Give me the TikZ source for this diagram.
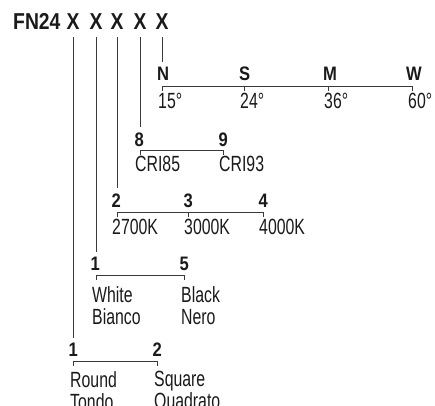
\documentclass[tikz,border=0pt]{standalone}
\usepackage{fontspec}
\setmainfont{Liberation Sans}
\newfontfamily\codefont{Liberation Sans}[FakeStretch=0.84]
\newfontfamily\numfont{Liberation Sans}[FakeStretch=0.85]
\newfontfamily\optfont{Liberation Sans}[FakeStretch=0.72]
\usepackage{xcolor}
\definecolor{rule-gray}{HTML}{3A3A3A}
\definecolor{text-black}{HTML}{1A1A1A}

\begin{document}
\begin{tikzpicture}[x=1pt, y=-1pt,
        every node/.style={inner sep=0pt, text=text-black},
        code/.style={font=\codefont\fontsize{23}{26}\selectfont\bfseries, anchor=base, outer ysep=8pt},
        num/.style={font=\numfont\fontsize{19.5}{22}\selectfont\bfseries, anchor=base west, outer ysep=5pt},
        opt/.style={font=\optfont\fontsize{22}{22}\selectfont, anchor=north west, align=left},
        rule/.style={line width=0.8pt, rule-gray}]
      \useasboundingbox (0,0) rectangle (435,405);
      % product code
      \node[code, anchor=base west] (fam) at (13,29) {FN24};
      \node[code] (x1) at (73,29) {X};
      \node[code] (x2) at (96,29) {X};
      \node[code] (x3) at (117,29) {X};
      \node[code] (x4) at (140,29) {X};
      \node[code] (x5) at (162,29) {X};
      % beam angle
      \node[num] (n5a) at (157,80) {N};
      \node[num] (n5b) at (239,80) {S};
      \node[num] (n5c) at (323,80) {M};
      \node[num] (n5d) at (406,80) {W};
      \draw[rule] (162,91) -- (162,86) -- (412,86) -- (412,91);
      \draw[rule] (244,86) -- (244,91);
      \draw[rule] (328,86) -- (328,91);
      \node[opt] (o5a) at (158,93) {15°};
      \node[opt] (o5b) at (240,93) {24°};
      \node[opt] (o5c) at (324,93) {36°};
      \node[opt] (o5d) at (408,93) {60°};
      % CRI
      \node[num] (n4a) at (134.5,146) {8};
      \node[num] (n4b) at (218.5,146) {9};
      \draw[rule] (140,155) -- (140,150) -- (223,150) -- (223,155);
      \node[opt] (o4a) at (135,156) {CRI85};
      \node[opt] (o4b) at (219,156) {CRI93};
      % colour temperature
      \node[num] (n3a) at (111.5,207) {2};
      \node[num] (n3b) at (183.5,207) {3};
      \node[num] (n3c) at (258.5,207) {4};
      \draw[rule] (117,217) -- (117,212) -- (263,212) -- (263,217);
      \draw[rule] (188,212) -- (188,217);
      \node[opt] (o3a) at (112,219) {2700K};
      \node[opt] (o3b) at (184,219) {3000K};
      \node[opt] (o3c) at (259,219) {4000K};
      % finish
      \node[num] (n2a) at (90.5,270) {1};
      \node[num] (n2b) at (179.5,270) {5};
      \draw[rule] (96,280) -- (96,275) -- (184,275) -- (184,280);
      \node[opt] (o2a) at (92,286) {White\\Bianco};
      \node[opt] (o2b) at (181,286) {Black\\Nero};
      % shape
      \node[num] (n1a) at (68.5,356) {1};
      \node[num] (n1b) at (152.5,356) {2};
      \draw[rule] (73,366) -- (73,361) -- (157,361) -- (157,366);
      \node[opt] (o1a) at (70,371) {Round\\Tondo};
      \node[opt] (o1b) at (154,371) {Square\\Quadrato};
      % code positions down to their options
      \draw[rule] (x5.south) -- (x5.south |- n5a.north);
      \draw[rule] (x4.south) -- (x4.south |- n4a.north);
      \draw[rule] (x3.south) -- (x3.south |- n3a.north);
      \draw[rule] (x2.south) -- (x2.south |- n2a.north);
      \draw[rule] (x1.south) -- (x1.south |- n1a.north);
    \end{tikzpicture}
\end{document}
